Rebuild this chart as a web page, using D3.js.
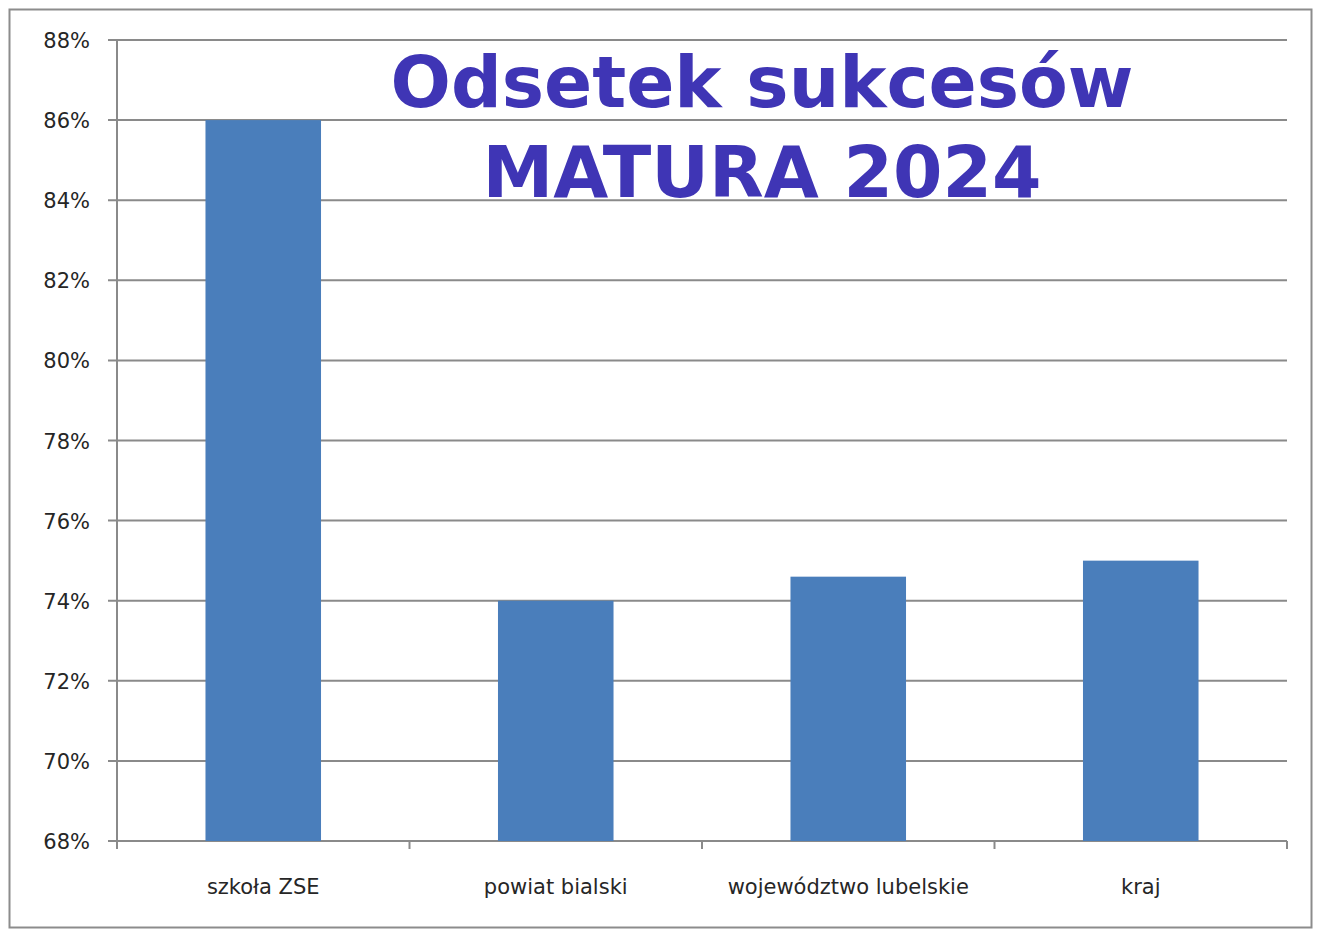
<!DOCTYPE html>
<html>
<head>
<meta charset="utf-8">
<script src="https://cdn.jsdelivr.net/npm/d3@7"></script>
<style>
  body { margin: 0; background: #fff; }
  svg { display: block; }
</style>
</head>
<body>
<div id="chart"></div>
<script>
// data
const categories = ['szkoła ZSE', 'powiat bialski', 'województwo lubelskie', 'kraj'];
const values = [86.0, 74.0, 74.6, 75.0];
const yTicks = [68, 70, 72, 74, 76, 78, 80, 82, 84, 86, 88];
const titleLines = ['Odsetek sukcesów', 'MATURA 2024'];

const W = 1319, H = 933;
const margin = {left: 117, right: 32, top: 40, bottom: 92};

const svg = d3.select('#chart')
    .append('svg')
    .attr('width', W)
    .attr('height', H);

// outer frame
svg.append('rect')
    .attr('x', 9.5)
    .attr('y', 9.5)
    .attr('width', 1302)
    .attr('height', 918)
    .attr('fill', '#fff')
    .attr('stroke', '#8c8c8c')
    .attr('stroke-width', 2);

const x = d3.scaleBand()
    .domain(categories)
    .range([margin.left, W - margin.right])
    .padding(0);

const y = d3.scaleLinear()
    .domain([68, 88])
    .range([H - margin.bottom, margin.top]);

// gridlines
svg.append('g')
    .selectAll('line')
    .data(yTicks)
    .join('line')
    .attr('x1', margin.left - 9)
    .attr('x2', W - margin.right)
    .attr('y1', d => y(d))
    .attr('y2', d => y(d))
    .attr('stroke', '#8a8a8a')
    .attr('stroke-width', 2);

// y axis line
svg.append('line')
    .attr('x1', margin.left)
    .attr('x2', margin.left)
    .attr('y1', y(88))
    .attr('y2', y(68) + 6)
    .attr('stroke', '#8a8a8a')
    .attr('stroke-width', 2);

// y labels
svg.append('g')
    .selectAll('text')
    .data(yTicks)
    .join('text')
    .attr('x', 90)
    .attr('y', d => y(d) + 8)
    .attr('text-anchor', 'end')
    .attr('fill', '#262626')
    .style('font-family', 'DejaVu Sans, sans-serif')
    .style('font-size', '21px')
    .text(d => d + '%');

// x ticks
const bounds = categories.map(c => x(c)).concat([x(categories[3]) + x.bandwidth()]);
svg.append('g')
    .selectAll('line')
    .data(bounds)
    .join('line')
    .attr('x1', d => d)
    .attr('x2', d => d)
    .attr('y1', y(68))
    .attr('y2', y(68) + 8)
    .attr('stroke', '#8a8a8a')
    .attr('stroke-width', 2);

// bars
const barW = x.bandwidth() * 0.395;
svg.append('g')
    .selectAll('rect')
    .data(categories)
    .join('rect')
    .attr('x', d => x(d) + (x.bandwidth() - barW) / 2)
    .attr('y', (d, i) => y(values[i]))
    .attr('width', barW)
    .attr('height', (d, i) => y(68) - y(values[i]))
    .attr('fill', '#4a7ebb');

// x labels
svg.append('g')
    .selectAll('text')
    .data(categories)
    .join('text')
    .attr('x', d => x(d) + x.bandwidth() / 2)
    .attr('y', 894)
    .attr('text-anchor', 'middle')
    .attr('fill', '#262626')
    .style('font-family', 'DejaVu Sans, sans-serif')
    .style('font-size', '21px')
    .text(d => d);

// title
const titleW = [743, 559];
const titleY = [107, 197];
svg.append('g')
    .selectAll('text')
    .data(titleLines)
    .join('text')
    .attr('x', 762)
    .attr('y', (d, i) => titleY[i])
    .attr('text-anchor', 'middle')
    .attr('fill', '#3f35b5')
    .style('font-family', 'DejaVu Sans, sans-serif')
    .style('font-weight', 'bold')
    .style('font-size', '71px')
    .attr('textLength', (d, i) => titleW[i])
    .attr('lengthAdjust', 'spacingAndGlyphs')
    .text(d => d);
</script>
</body>
</html>
